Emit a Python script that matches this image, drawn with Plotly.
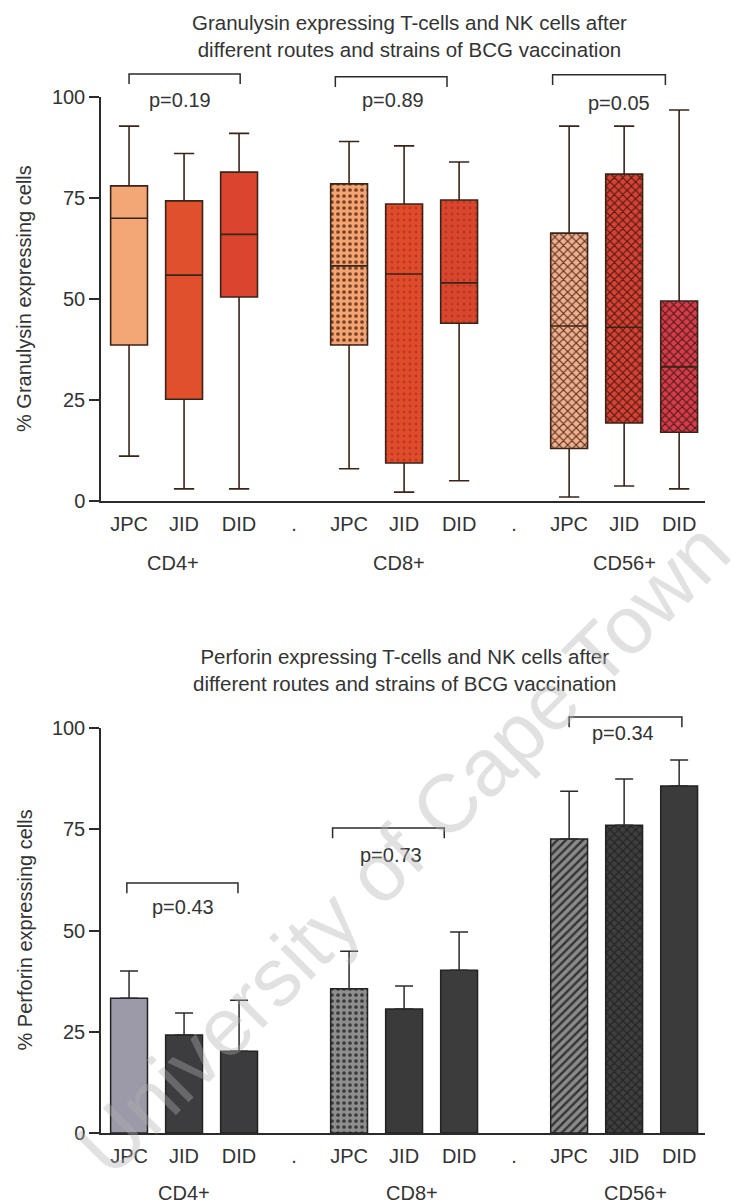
import plotly.graph_objects as go

# ---- data ---------------------------------------------------------------
routes = ["JPC", "JID", "DID"]
groups = ["CD4+", "CD8+", "CD56+"]
positions = [0, 1, 2, 4, 5, 6, 8, 9, 10]

# Granulysin (% expressing cells): box summaries per group/route
gr_upper = [92.8, 86.0, 91.0, 89.0, 87.9, 83.9, 92.8, 92.8, 96.8]
gr_q3 = [78.0, 74.3, 81.4, 78.5, 73.5, 74.5, 66.3, 80.9, 49.5]
gr_median = [70.0, 55.9, 66.0, 58.2, 56.2, 54.0, 43.3, 43.0, 33.2]
gr_q1 = [38.6, 25.2, 50.5, 38.6, 9.4, 44.0, 13.0, 19.3, 17.0]
gr_lower = [11.1, 3.0, 3.0, 8.0, 2.2, 5.0, 1.0, 3.7, 3.0]
gr_pvalues = ["p=0.19", "p=0.89", "p=0.05"]

# Perforin (% expressing cells): mean and upper error
pf_mean = [33.3, 24.2, 20.2, 35.6, 30.6, 40.2, 72.6, 76.0, 85.7]
pf_err = [6.7, 5.4, 12.6, 9.3, 5.7, 9.4, 11.8, 11.4, 6.4]
pf_pvalues = ["p=0.43", "p=0.73", "p=0.34"]

yticks = [0, 25, 50, 75, 100]

# ---- styling --------------------------------------------------------------
FONT = "Liberation Sans, Arial, Helvetica, sans-serif"
TXT = "#333333"
INK = "#2b2b2b"
BOX_W = 0.67
YMIN, YMAX = 0, 100

gr_fill = ["#f3a777", "#e1502c", "#d9452f",
           "#f2a472", "#e04b2b", "#da452e",
           "#efb08c", "#d94232", "#d93c48"]
gr_shape = ["", "", "", ".", ".", ".", "x", "x", "x"]
gr_fg = ["#000", "#000", "#000",
         "#7a4026", "#b83a20", "#b43a22",
         "#5a3024", "#4a1a14", "#4a1a20"]
gr_solid = [0, 0, 0, 0.3, 0.18, 0.18, 0.35, 0.35, 0.35]

pf_fill = ["#9c9aa8", "#3d3d40", "#3c3c3f",
           "#8e8e8e", "#3a3a3b", "#3c3c3d",
           "#8a8a8a", "#3e3e3e", "#3b3b3b"]
pf_shape = ["", "", "", ".", "", "", "/", "x", ""]
pf_fg = ["#000", "#000", "#000",
         "#3a3a3a", "#000", "#000",
         "#333333", "#222222", "#000"]
pf_solid = [0, 0, 0, 0.3, 0, 0, 0.4, 0.35, 0]

# bracket layout: (x0, x1, bar height, text x, text y)
gr_brackets = [(0.0, 2.02, 105.7, 0.93, 99.3),
               (3.75, 5.78, 105.0, 4.8, 99.3),
               (7.7, 9.75, 105.5, 8.9, 98.6)]
pf_brackets = [(-0.04, 1.98, 61.7, 0.98, 55.8),
               (3.7, 5.73, 75.3, 4.76, 68.6),
               (8.0, 10.05, 102.7, 8.98, 98.8)]
LEG = 2.5

# horizontal nudges for the group captions (category units)
gr_caption_shift = [-0.2, -0.1, 0.0]
pf_caption_shift = [0.0, 0.15, 0.2]

ticktext = []
for i, g in enumerate(groups):
    ticktext += routes
    if i < len(groups) - 1:
        ticktext.append(".")
tickvals = list(range(11))


def pattern(shape, fg, bg, solidity):
    if not shape:
        return dict(shape="")
    return dict(shape=shape, fgcolor=fg, bgcolor=bg, size=6,
                solidity=solidity, fillmode="replace")


fig = go.Figure()

# ---- Granulysin box plot (top) ---------------------------------------------
# box interiors (one bar per box so each keeps its own texture)
for i, x in enumerate(positions):
    fig.add_trace(go.Bar(
        x=[x], base=[gr_q1[i]], y=[gr_q3[i] - gr_q1[i]], width=BOX_W,
        marker=dict(color=gr_fill[i], line=dict(width=0),
                    pattern=pattern(gr_shape[i], gr_fg[i], gr_fill[i],
                                    gr_solid[i])),
        xaxis="x", yaxis="y", showlegend=False, hoverinfo="skip"))
fig.add_trace(go.Box(
    x=positions, q1=gr_q1, median=gr_median, q3=gr_q3,
    lowerfence=gr_lower, upperfence=gr_upper,
    width=BOX_W, whiskerwidth=0.55,
    fillcolor="rgba(0,0,0,0)",
    line=dict(color="#3a2418", width=1.6),
    boxpoints=False, xaxis="x", yaxis="y", showlegend=False))

# ---- Perforin bar chart (bottom) -------------------------------------------
for i, x in enumerate(positions):
    fig.add_trace(go.Bar(
        x=[x], y=[pf_mean[i]], width=BOX_W,
        marker=dict(color=pf_fill[i], line=dict(color="#222222", width=1.5),
                    pattern=pattern(pf_shape[i], pf_fg[i], pf_fill[i],
                                    pf_solid[i])),
        error_y=dict(type="data", array=[pf_err[i]], arrayminus=[0],
                     symmetric=False, color=INK, thickness=1.5, width=9),
        xaxis="x2", yaxis="y2", showlegend=False))


def to_domain(v):
    return (v - YMIN) / (YMAX - YMIN)


# ---- significance brackets --------------------------------------------------
for (xa, ya), brackets, pvals in (
        (("x", "y"), gr_brackets, gr_pvalues),
        (("x2", "y2"), pf_brackets, pf_pvalues)):
    for (x0, x1, h, tx, ty), p in zip(brackets, pvals):
        top = to_domain(h)
        foot = to_domain(h - LEG)
        fig.add_shape(type="path", xref=xa, yref=ya + " domain",
                      path=f"M {x0},{foot} L {x0},{top} L {x1},{top} L {x1},{foot}",
                      line=dict(color=INK, width=1.5))
        fig.add_annotation(x=tx, y=ty, xref=xa, yref=ya, text=p,
                           showarrow=False, xanchor="center",
                           yanchor="middle",
                           font=dict(size=20, color=TXT, family=FONT))

# ---- axes -------------------------------------------------------------------
xdom = [101 / 753, 705 / 753]
common_x = dict(range=[-0.51, 10.47], showline=True, linecolor=INK,
                linewidth=1.5, showgrid=False, zeroline=False,
                tickmode="array", tickvals=tickvals, ticktext=ticktext,
                ticks="outside", ticklen=4, tickcolor="rgba(0,0,0,0)",
                tickfont=dict(size=20, color=TXT, family=FONT),
                domain=xdom, fixedrange=True, automargin=False)
common_y = dict(range=[YMIN, YMAX], showline=True, linecolor=INK,
                linewidth=1.5, showgrid=False, zeroline=False,
                tickmode="array", tickvals=yticks,
                ticks="outside", ticklen=10, tickwidth=1.5, tickcolor=INK,
                tickfont=dict(size=20, color=TXT, family=FONT),
                fixedrange=True, automargin=False)

fig.update_layout(
    width=753, height=1203,
    margin=dict(l=0, r=0, t=0, b=0, pad=0, autoexpand=False),
    paper_bgcolor="white", plot_bgcolor="white",
    barmode="overlay", boxmode="overlay",
    xaxis=dict(**common_x, anchor="y"),
    yaxis=dict(**common_y, domain=[(1203 - 501) / 1203, (1203 - 97) / 1203],
               anchor="x"),
    xaxis2=dict(**common_x, anchor="y2"),
    yaxis2=dict(**common_y, domain=[(1203 - 1133) / 1203, (1203 - 728) / 1203],
                anchor="x2"),
    font=dict(family=FONT, color=TXT),
)

# titles
fig.add_annotation(
    text="Granulysin expressing T-cells and NK cells after<br>"
         "different routes and strains of BCG vaccination",
    xref="paper", yref="paper", x=410 / 753, y=(1203 - 36.5) / 1203,
    xanchor="center", yanchor="middle",
    showarrow=False, font=dict(size=20.5, color=TXT, family=FONT))
fig.add_annotation(
    text="Perforin expressing T-cells and NK cells after<br>"
         "different routes and strains of BCG vaccination",
    xref="paper", yref="paper", x=405 / 753, y=(1203 - 670) / 1203,
    xanchor="center", yanchor="middle",
    showarrow=False, font=dict(size=20.5, color=TXT, family=FONT))

# y-axis titles
for yref, label in (("y domain", "% Granulysin expressing cells"),
                    ("y2 domain", "% Perforin expressing cells")):
    fig.add_annotation(text=label, textangle=-90, xref="paper", yref=yref,
                       x=24 / 753, y=0.5, xanchor="center", yanchor="middle",
                       showarrow=False,
                       font=dict(size=20, color=TXT, family=FONT))

# group labels under each triplet
for xref, yref, dy, shifts in (("x", "y domain", -0.153, gr_caption_shift),
                               ("x2", "y2 domain", -0.148, pf_caption_shift)):
    for gi, g in enumerate(groups):
        mid = positions[gi * 3 + 1] + shifts[gi]
        fig.add_annotation(text=g, xref=xref, yref=yref, x=mid, y=dy,
                           xanchor="center", yanchor="middle",
                           showarrow=False,
                           font=dict(size=20, color=TXT, family=FONT))

# faint diagonal watermark
fig.add_annotation(text="University of Cape Town", xref="paper",
                   yref="paper", x=402 / 753, y=(1203 - 848) / 1203,
                   xanchor="center", yanchor="middle",
                   textangle=-45, showarrow=False,
                   font=dict(size=82, color="rgba(175,175,175,0.38)",
                             family=FONT))

fig.write_html("out.html")
